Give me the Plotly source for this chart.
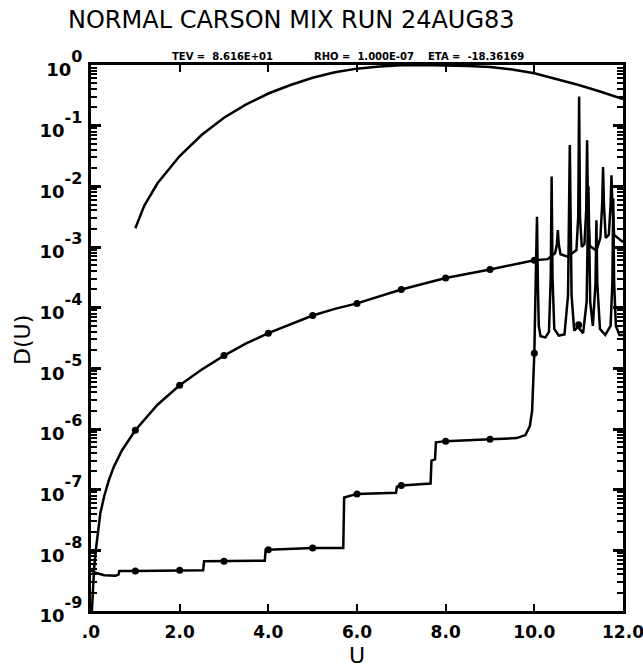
import numpy as np
import plotly.graph_objects as go

# ---------------- data (log10 of D(U)) ----------------
top_u = [1.0, 1.2, 1.5, 2.0, 2.5, 3.0, 3.5, 4.0, 4.5, 5.0, 5.5, 6.0, 6.5, 7.0,
         7.5, 8.0, 8.5, 9.0, 9.5, 10.0, 10.5, 11.0, 11.5, 12.0]
top_logd = [-2.69, -2.32, -1.95, -1.50, -1.15, -0.87, -0.65, -0.47, -0.33, -0.21,
            -0.12, -0.06, -0.025, -0.006, 0.0, -0.004, -0.015, -0.035, -0.075,
            -0.135, -0.23, -0.33, -0.44, -0.56]

mid_u = [0.02, 0.04, 0.07, 0.1, 0.15, 0.21, 0.3, 0.4, 0.51, 0.7, 1.0, 1.5, 2.0,
         2.5, 3.0, 3.5, 4.0, 4.5, 5.0, 5.5, 6.0, 7.0, 8.0, 9.0, 10.0,
         10.3, 10.47, 10.51, 10.53, 10.55, 10.59, 10.75, 10.95, 10.99, 11.01,
         11.03, 11.07, 11.13, 11.17, 11.19, 11.21, 11.25, 11.4, 11.49, 11.53,
         11.55, 11.57, 11.61, 11.68, 11.72, 11.74, 11.76, 11.80, 12.0]
mid_logd = [-9.0, -8.6, -8.3, -8.05, -7.7, -7.39, -7.1, -6.85, -6.63, -6.35,
            -6.02, -5.6, -5.28, -5.02, -4.79, -4.59, -4.42, -4.27, -4.13, -4.02,
            -3.93, -3.70, -3.51, -3.37, -3.22,
            -3.20, -3.10, -2.95, -2.72, -2.95, -3.12, -3.16, -3.05, -2.5, -0.52,
            -2.5, -3.0, -2.95, -2.4, -1.24, -2.4, -2.98, -3.06, -2.85, -2.3,
            -1.68, -2.3, -2.85, -2.8, -2.3, -1.82, -2.3, -2.8, -2.92]

step_u = [0.0, 0.1, 0.3, 0.55, 0.62, 0.64, 1.0, 2.0, 2.53, 2.55, 3.0, 3.92,
          3.94, 4.0, 5.0, 5.69, 5.71, 6.0, 6.88, 6.90, 7.0, 7.66, 7.68, 7.76,
          7.78, 8.0, 9.0, 9.6, 9.8, 9.9, 9.95, 9.97, 10.0,
          10.03, 10.06, 10.08, 10.10, 10.14, 10.25, 10.33, 10.37, 10.39, 10.41,
          10.45, 10.55, 10.68, 10.76, 10.80, 10.84, 10.9, 10.98, 11.0, 11.02,
          11.1, 11.18, 11.22, 11.26, 11.32, 11.38, 11.40, 11.42, 11.48, 11.6,
          11.72, 11.76, 11.78, 11.80, 11.84, 11.92, 12.0]
step_logd = [-8.33, -8.37, -8.41, -8.42, -8.40, -8.34, -8.34, -8.33, -8.33,
             -8.18, -8.18, -8.17, -7.99, -7.99, -7.96, -7.96, -7.13, -7.07,
             -7.05, -6.95, -6.93, -6.90, -6.52, -6.50, -6.22, -6.20, -6.17,
             -6.15, -6.10, -5.95, -5.7, -5.3, -4.75,
             -3.6, -2.50, -3.6, -4.3, -4.47, -4.49, -4.4, -3.5, -1.84, -3.5,
             -4.35, -4.46, -4.44, -3.8, -1.32, -3.8, -4.38, -4.32, -4.28, -4.35,
             -4.42, -3.9, -2.0, -3.9, -4.3, -3.6, -2.56, -3.6, -4.35, -4.45,
             -4.3, -3.6, -2.2, -3.6, -4.3, -4.45, -4.45]

mid_mark_u = [1, 2, 3, 4, 5, 6, 7, 8, 9, 10]
mid_mark_logd = [-6.02, -5.28, -4.79, -4.42, -4.13, -3.93, -3.70, -3.51, -3.37, -3.22]
step_mark_u = [1, 2, 3, 4, 5, 6, 7, 8, 9, 10, 11]
step_mark_logd = [-8.34, -8.33, -8.18, -7.99, -7.96, -7.07, -6.93, -6.20, -6.17, -4.75, -4.28]

x_tickvals = [0, 2, 4, 6, 8, 10, 12]
x_ticktext = [".0", "2.0", "4.0", "6.0", "8.0", "10.0", "12.0"]
y_exponents = [0, -1, -2, -3, -4, -5, -6, -7, -8, -9]

title_text = "NORMAL CARSON MIX RUN 24AUG83"
info_texts = ["TEV =  8.616E+01", "RHO =  1.000E-07", "ETA =  -18.36169"]

# ---------------- figure ----------------
W, H = 643, 668
L, R, T, B = 91, 20, 65, 57
PW, PH = W - L - R, H - T - B


def d(vals):
    return [10.0 ** v for v in vals]


def px(xp):
    return (xp - L) / PW


def py(yp):
    return (H - B - yp) / PH


line_style = dict(color="black", width=2.5)
fig = go.Figure()
fig.add_trace(go.Scatter(x=top_u, y=d(top_logd), mode="lines", line=line_style,
                         hoverinfo="skip"))
fig.add_trace(go.Scatter(x=mid_u, y=d(mid_logd), mode="lines", line=line_style,
                         hoverinfo="skip"))
fig.add_trace(go.Scatter(x=step_u, y=d(step_logd), mode="lines", line=line_style,
                         hoverinfo="skip"))
mk = dict(symbol="circle", size=7, color="black")
fig.add_trace(go.Scatter(x=mid_mark_u, y=d(mid_mark_logd), mode="markers",
                         marker=mk, hoverinfo="skip"))
fig.add_trace(go.Scatter(x=step_mark_u, y=d(step_mark_logd), mode="markers",
                         marker=mk, hoverinfo="skip"))

xtickfont = dict(family="DejaVu Sans", size=17, color="black", weight="bold")
ytickfont = dict(family="DejaVu Sans", size=18, color="black", weight="bold")
minor_vals = [k * 10.0 ** n for n in range(-9, 0) for k in range(2, 10)]

fig.update_layout(
    width=W, height=H,
    margin=dict(l=L, r=R, t=T, b=B),
    paper_bgcolor="white", plot_bgcolor="white",
    showlegend=False,
    font=dict(family="DejaVu Sans", color="black"),
    xaxis=dict(range=[0, 12], showgrid=False, zeroline=False, showline=True,
               automargin=False,
               linecolor="black", linewidth=3, mirror="allticks", ticks="inside",
               ticklen=7, tickwidth=2, tickcolor="black",
               tickmode="array", tickvals=x_tickvals, ticktext=x_ticktext,
               tickfont=xtickfont, ticklabelstandoff=4,
               ticklabeloverflow="allow"),
    yaxis=dict(type="log", range=[-9, 0], showgrid=False, zeroline=False,
               automargin=False,
               showline=True, linecolor="black", linewidth=3, mirror="allticks",
               ticks="inside", ticklen=10, tickwidth=2.5, tickcolor="black",
               tickmode="array", tickvals=[10.0 ** e for e in y_exponents],
               ticktext=["10<span style='font-size:16px;baseline-shift:14px'>%d</span>" % e
                         for e in y_exponents],
               tickfont=ytickfont, ticklabelstandoff=2, ticklabelshift=5,
               ticklabeloverflow="allow",
               minor=dict(tickmode="array", tickvals=minor_vals, ticks="inside",
                          ticklen=6, tickwidth=1.5, tickcolor="black",
                          showgrid=False)),
)

# title and axis titles
fig.add_annotation(text=title_text, xref="paper", yref="paper",
                   x=px(291), y=py(20), xanchor="center", yanchor="middle",
                   showarrow=False,
                   font=dict(family="DejaVu Sans", size=24, color="black"))
fig.add_annotation(text="U", xref="paper", yref="paper",
                   x=px(357), y=py(655), xanchor="center", yanchor="middle",
                   showarrow=False,
                   font=dict(family="DejaVu Sans", size=22, color="black"))
fig.add_annotation(text="D(U)", xref="paper", yref="paper", textangle=-90,
                   x=px(22), y=py(340), xanchor="center", yanchor="middle",
                   showarrow=False,
                   font=dict(family="DejaVu Sans", size=22, color="black"))

ann_font = dict(family="DejaVu Sans", size=10, color="black", weight="bold")
for txt, xc in zip(info_texts, [222, 364, 476]):
    fig.add_annotation(text=txt.replace("  ", "&nbsp;&nbsp;"), xref="paper",
                       yref="paper", x=px(xc), y=py(56),
                       xanchor="center", yanchor="middle", showarrow=False,
                       font=ann_font)

fig.write_html("out.html",
               config={"displayModeBar": False},
               post_script="document.body.style.margin='0px';"
                           "document.body.style.overflow='hidden';")
